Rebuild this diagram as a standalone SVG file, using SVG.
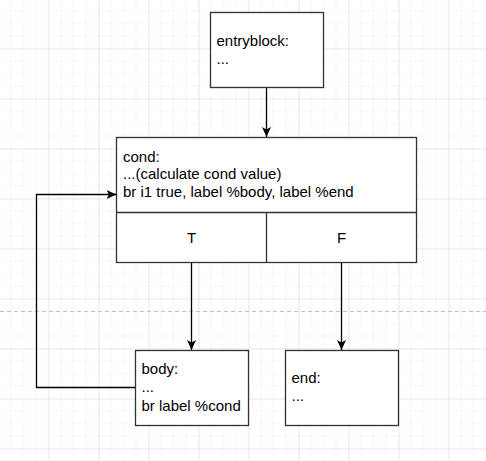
<svg xmlns="http://www.w3.org/2000/svg" width="486" height="461" viewBox="0 0 486 461">
<defs>
<pattern id="minor" width="12.5" height="12.5" patternUnits="userSpaceOnUse" x="-0.5" y="-0.5">
<path d="M12.5 0V12.5M0 12.5H12.5" fill="none" stroke="#eeeeee" stroke-width="1"/>
</pattern>
<pattern id="major" width="50" height="50" patternUnits="userSpaceOnUse" x="-0.5" y="-0.5">
<rect width="50" height="50" fill="url(#minor)"/>
<path d="M50 0V50M0 50H50" fill="none" stroke="#d8d8d8" stroke-width="1"/>
</pattern>
<marker id="arr" viewBox="0 0 10 10" refX="10" refY="5" markerWidth="10" markerHeight="10" markerUnits="userSpaceOnUse" orient="auto">
<path d="M10 5L0 0.5L2.5 5L0 9.5Z" fill="#000"/>
</marker>
</defs>
<style>
.box{fill:#fff;stroke:#333;stroke-width:1.3}
.t{font-family:"Liberation Sans",Arial,sans-serif;font-size:15px;fill:#000}
.c{fill:none;stroke:#000;stroke-width:1.3}
</style>
<rect width="486" height="461" fill="#fff"/>
<rect width="486" height="461" fill="url(#major)"/>
<line x1="0" y1="311.5" x2="486" y2="311.5" stroke="#c4c4c4" stroke-width="1" stroke-dasharray="4 3"/>
<g id="entryblock">
<rect class="box" x="210.5" y="12.5" width="113" height="75"/>
<text class="t" x="216.5" y="46">entryblock:</text>
<text class="t" x="216.5" y="63.5">...</text>
</g>
<g id="cond">
<rect class="box" x="116.5" y="137.5" width="300" height="125"/>
<line class="box" x1="116.5" y1="212.5" x2="416.5" y2="212.5"/>
<line class="box" x1="266.5" y1="212.5" x2="266.5" y2="262.5"/>
<text class="t" x="123" y="161.5">cond:</text>
<text class="t" x="123" y="179">...(calculate cond value)</text>
<text class="t" x="123" y="196.5">br i1 true, label %body, label %end</text>
<text class="t" x="191.5" y="242.5" text-anchor="middle">T</text>
<text class="t" x="341.5" y="242.5" text-anchor="middle">F</text>
</g>
<g id="body">
<rect class="box" x="135.5" y="350.5" width="113" height="75"/>
<text class="t" x="141.5" y="374">body:</text>
<text class="t" x="141.5" y="392">...</text>
<text class="t" x="141.5" y="410.5">br label %cond</text>
</g>
<g id="end">
<rect class="box" x="285.5" y="350.5" width="113" height="75"/>
<text class="t" x="291.5" y="383">end:</text>
<text class="t" x="291.5" y="401">...</text>
</g>
<g id="connectors">
<path class="c" d="M266.5 88V137" marker-end="url(#arr)"/>
<path class="c" d="M191.5 263V350" marker-end="url(#arr)"/>
<path class="c" d="M341.5 263V350" marker-end="url(#arr)"/>
<path class="c" d="M135 387.5H36.5V194.5H116.5" marker-end="url(#arr)"/>
</g>
</svg>
